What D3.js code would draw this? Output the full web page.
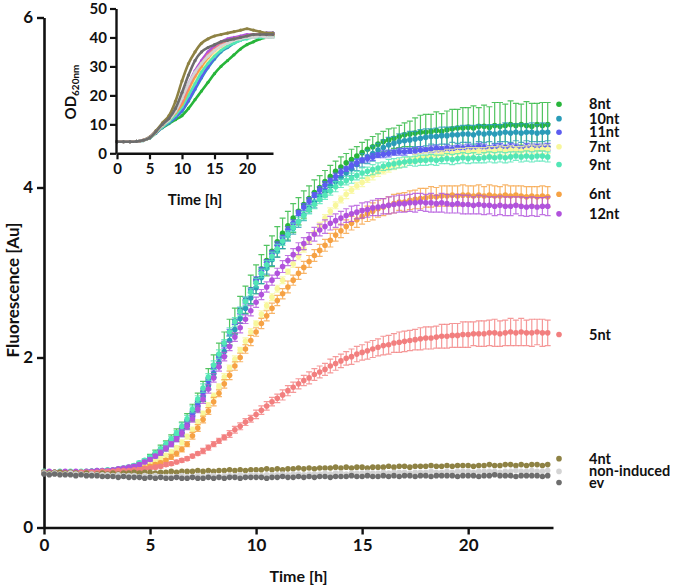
<!DOCTYPE html>
<html>
<head>
<meta charset="utf-8">
<script src="https://cdn.jsdelivr.net/npm/d3@7/dist/d3.min.js"></script>
<style>
  body { margin: 0; background: #fff; }
  text { font-family: Lato, "Open Sans", sans-serif; font-weight: bold; fill: #111; }
</style>
</head>
<body>
<div id="chart"></div>
<script>
// sampling times (h), one reading every 15 min
const timeH = [
  0,0.25,0.5,0.75, 1,1.25,1.5,1.75, 2,2.25,2.5,2.75, 3,3.25,3.5,3.75,
  4,4.25,4.5,4.75, 5,5.25,5.5,5.75, 6,6.25,6.5,6.75, 7,7.25,7.5,7.75,
  8,8.25,8.5,8.75, 9,9.25,9.5,9.75, 10,10.25,10.5,10.75, 11,11.25,11.5,11.75,
  12,12.25,12.5,12.75, 13,13.25,13.5,13.75, 14,14.25,14.5,14.75, 15,15.25,15.5,15.75,
  16,16.25,16.5,16.75, 17,17.25,17.5,17.75, 18,18.25,18.5,18.75, 19,19.25,19.5,19.75,
  20,20.25,20.5,20.75, 21,21.25,21.5,21.75, 22,22.25,22.5,22.75, 23,23.25,23.5,23.75
];

// fluorescence means [Au]
const f8nt = [
  0.65,0.65,0.64,0.65, 0.64,0.65,0.65,0.64, 0.65,0.66,0.65,0.66, 0.67,0.67,0.68,0.69,
  0.70,0.72,0.74,0.77, 0.83,0.87,0.92,0.97, 1.03,1.09,1.16,1.25, 1.35,1.47,1.60,1.75,
  1.90,2.03,2.16,2.30, 2.43,2.56,2.68,2.80, 2.92,3.04,3.14,3.25, 3.36,3.46,3.55,3.64,
  3.72,3.80,3.87,3.94, 4.00,4.07,4.13,4.19, 4.24,4.29,4.33,4.37, 4.41,4.45,4.48,4.51,
  4.54,4.56,4.58,4.60, 4.62,4.63,4.64,4.65, 4.65,4.66,4.67,4.66, 4.68,4.69,4.70,4.70,
  4.71,4.70,4.72,4.72, 4.71,4.73,4.72,4.73, 4.74,4.73,4.74,4.73, 4.72,4.74,4.73,4.74
];
const f10nt = [
  0.65,0.64,0.65,0.64, 0.65,0.64,0.65,0.65, 0.65,0.65,0.66,0.66, 0.66,0.67,0.67,0.68,
  0.69,0.71,0.73,0.76, 0.80,0.84,0.88,0.93, 0.98,1.04,1.11,1.20, 1.30,1.42,1.54,1.67,
  1.81,1.94,2.07,2.20, 2.33,2.46,2.58,2.70, 2.82,2.94,3.05,3.15, 3.25,3.35,3.44,3.52,
  3.60,3.68,3.76,3.83, 3.90,3.96,4.02,4.07, 4.12,4.17,4.22,4.27, 4.32,4.36,4.40,4.44,
  4.47,4.50,4.52,4.54, 4.55,4.56,4.57,4.58, 4.59,4.60,4.60,4.61, 4.61,4.62,4.62,4.63,
  4.63,4.62,4.64,4.63, 4.64,4.63,4.64,4.65, 4.64,4.65,4.64,4.65, 4.65,4.64,4.65,4.65
];
const f11nt = [
  0.64,0.65,0.64,0.65, 0.65,0.64,0.65,0.65, 0.65,0.66,0.66,0.66, 0.67,0.67,0.68,0.69,
  0.70,0.72,0.74,0.77, 0.81,0.85,0.90,0.95, 1.01,1.07,1.15,1.24, 1.34,1.46,1.59,1.73,
  1.88,2.01,2.15,2.29, 2.42,2.55,2.67,2.79, 2.91,3.02,3.12,3.22, 3.32,3.41,3.50,3.58,
  3.70,3.77,3.84,3.91, 3.97,4.03,4.08,4.13, 4.18,4.22,4.26,4.29, 4.32,4.34,4.36,4.38,
  4.39,4.40,4.41,4.42, 4.42,4.43,4.43,4.44, 4.44,4.45,4.46,4.45, 4.46,4.45,4.47,4.46,
  4.47,4.46,4.48,4.47, 4.46,4.47,4.48,4.47, 4.48,4.47,4.46,4.48, 4.47,4.48,4.47,4.48
];
const f7nt = [
  0.65,0.64,0.64,0.65, 0.64,0.65,0.64,0.65, 0.65,0.65,0.65,0.66, 0.66,0.66,0.67,0.67,
  0.68,0.69,0.71,0.73, 0.75,0.78,0.81,0.85, 0.89,0.94,1.00,1.07, 1.15,1.24,1.34,1.44,
  1.55,1.66,1.77,1.88, 1.98,2.09,2.19,2.30, 2.40,2.51,2.61,2.71, 2.81,2.91,3.01,3.10,
  3.19,3.28,3.37,3.46, 3.55,3.64,3.72,3.79, 3.86,3.92,3.97,4.02, 4.06,4.10,4.14,4.18,
  4.20,4.23,4.26,4.28, 4.30,4.32,4.34,4.35, 4.36,4.37,4.38,4.39, 4.40,4.40,4.41,4.41,
  4.42,4.42,4.43,4.42, 4.43,4.43,4.44,4.43, 4.44,4.44,4.43,4.44, 4.45,4.44,4.45,4.45
];
const f9nt = [
  0.66,0.65,0.65,0.66, 0.65,0.66,0.65,0.66, 0.66,0.66,0.67,0.67, 0.68,0.68,0.69,0.70,
  0.71,0.73,0.76,0.79, 0.83,0.87,0.92,0.98, 1.04,1.11,1.19,1.28, 1.39,1.51,1.64,1.77,
  1.91,2.04,2.17,2.30, 2.42,2.54,2.66,2.77, 2.88,2.99,3.09,3.19, 3.28,3.37,3.45,3.53,
  3.60,3.67,3.74,3.80, 3.86,3.91,3.96,4.01, 4.05,4.08,4.11,4.14, 4.17,4.19,4.21,4.23,
  4.25,4.27,4.28,4.29, 4.30,4.31,4.31,4.32, 4.32,4.33,4.32,4.33, 4.34,4.33,4.34,4.35,
  4.34,4.35,4.34,4.35, 4.36,4.35,4.36,4.35, 4.36,4.37,4.36,4.37, 4.36,4.37,4.37,4.36
];
const f6nt = [
  0.64,0.65,0.64,0.64, 0.65,0.64,0.64,0.65, 0.64,0.65,0.65,0.65, 0.65,0.66,0.66,0.66,
  0.67,0.68,0.69,0.70, 0.72,0.74,0.76,0.79, 0.83,0.87,0.92,0.98, 1.08,1.17,1.27,1.37,
  1.48,1.58,1.69,1.79, 1.90,2.00,2.10,2.20, 2.30,2.40,2.49,2.58, 2.67,2.75,2.83,2.91,
  2.99,3.06,3.13,3.20, 3.26,3.32,3.38,3.44, 3.49,3.54,3.58,3.62, 3.66,3.69,3.72,3.75,
  3.77,3.79,3.81,3.83, 3.83,3.85,3.86,3.87, 3.88,3.89,3.89,3.90, 3.90,3.91,3.90,3.91,
  3.91,3.90,3.91,3.90, 3.91,3.90,3.90,3.91, 3.90,3.91,3.90,3.89, 3.90,3.89,3.90,3.89
];
const f12nt = [
  0.65,0.66,0.65,0.65, 0.66,0.65,0.66,0.65, 0.66,0.66,0.67,0.67, 0.67,0.68,0.69,0.70,
  0.71,0.72,0.74,0.77, 0.80,0.84,0.88,0.93, 0.98,1.04,1.11,1.19, 1.28,1.39,1.51,1.63,
  1.76,1.89,2.01,2.13, 2.24,2.35,2.45,2.55, 2.65,2.74,2.83,2.91, 2.99,3.07,3.14,3.21,
  3.28,3.34,3.40,3.45, 3.50,3.54,3.58,3.61, 3.64,3.67,3.69,3.71, 3.73,3.74,3.76,3.77,
  3.78,3.79,3.80,3.81, 3.81,3.82,3.82,3.83, 3.82,3.82,3.81,3.82, 3.81,3.80,3.81,3.80,
  3.80,3.79,3.80,3.79, 3.79,3.78,3.79,3.78, 3.78,3.79,3.78,3.77, 3.78,3.77,3.78,3.78
];
const f5nt = [
  0.65,0.64,0.65,0.65, 0.64,0.65,0.64,0.65, 0.65,0.65,0.65,0.66, 0.66,0.66,0.67,0.67,
  0.67,0.68,0.68,0.69, 0.70,0.71,0.72,0.74, 0.75,0.77,0.79,0.81, 0.84,0.87,0.90,0.94,
  0.98,1.02,1.06,1.10, 1.15,1.19,1.24,1.28, 1.33,1.38,1.43,1.48, 1.52,1.56,1.61,1.65,
  1.69,1.73,1.76,1.80, 1.83,1.86,1.90,1.93, 1.96,1.99,2.01,2.04, 2.06,2.08,2.10,2.12,
  2.14,2.15,2.17,2.18, 2.19,2.20,2.21,2.22, 2.23,2.23,2.24,2.25, 2.25,2.26,2.26,2.27,
  2.27,2.28,2.28,2.28, 2.29,2.29,2.28,2.29, 2.30,2.29,2.30,2.29, 2.29,2.30,2.29,2.29
];
const f4nt = [
  0.65,0.64,0.65,0.65, 0.64,0.65,0.64,0.63, 0.64,0.63,0.63,0.64, 0.63,0.64,0.63,0.64,
  0.64,0.65,0.64,0.65, 0.65,0.64,0.65,0.65, 0.66,0.65,0.66,0.66, 0.66,0.67,0.66,0.67,
  0.66,0.67,0.67,0.68, 0.67,0.68,0.67,0.68, 0.68,0.68,0.69,0.68, 0.69,0.68,0.69,0.69,
  0.70,0.69,0.70,0.69, 0.70,0.70,0.70,0.71, 0.70,0.71,0.70,0.71, 0.71,0.70,0.71,0.71,
  0.71,0.72,0.71,0.72, 0.72,0.71,0.72,0.72, 0.72,0.73,0.72,0.72, 0.73,0.72,0.73,0.73,
  0.73,0.72,0.73,0.73, 0.74,0.73,0.73,0.74, 0.74,0.73,0.74,0.73, 0.74,0.74,0.73,0.74
];
const fNonInduced = [
  0.64,0.63,0.64,0.63, 0.63,0.64,0.63,0.63, 0.62,0.63,0.62,0.62, 0.62,0.61,0.62,0.61,
  0.61,0.61,0.60,0.61, 0.60,0.61,0.60,0.60, 0.60,0.60,0.61,0.60, 0.60,0.61,0.60,0.61,
  0.61,0.60,0.61,0.61, 0.61,0.62,0.61,0.62, 0.62,0.61,0.62,0.62, 0.62,0.63,0.62,0.63,
  0.63,0.62,0.63,0.63, 0.63,0.64,0.63,0.64, 0.64,0.63,0.64,0.64, 0.64,0.65,0.64,0.64,
  0.65,0.64,0.65,0.65, 0.65,0.64,0.65,0.65, 0.65,0.66,0.65,0.65, 0.66,0.65,0.66,0.66,
  0.66,0.65,0.66,0.66, 0.66,0.66,0.65,0.66, 0.66,0.67,0.66,0.66, 0.67,0.66,0.66,0.67
];
const fEv = [
  0.63,0.62,0.63,0.62, 0.62,0.62,0.61,0.62, 0.61,0.61,0.61,0.60, 0.60,0.60,0.59,0.60,
  0.59,0.59,0.59,0.58, 0.59,0.58,0.59,0.58, 0.58,0.59,0.58,0.58, 0.59,0.58,0.58,0.59,
  0.58,0.59,0.58,0.59, 0.59,0.58,0.59,0.59, 0.59,0.59,0.58,0.59, 0.59,0.60,0.59,0.59,
  0.60,0.59,0.60,0.59, 0.60,0.60,0.59,0.60, 0.60,0.60,0.61,0.60, 0.60,0.61,0.60,0.60,
  0.61,0.60,0.61,0.60, 0.61,0.61,0.60,0.61, 0.61,0.60,0.61,0.61, 0.61,0.61,0.60,0.61,
  0.61,0.61,0.60,0.61, 0.61,0.62,0.61,0.61, 0.61,0.60,0.61,0.61, 0.61,0.61,0.60,0.61
];

// standard deviations [Au]
const e8nt = [
  0.01,0.01,0.01,0.01, 0.01,0.01,0.01,0.01, 0.01,0.01,0.01,0.01, 0.01,0.02,0.02,0.02,
  0.02,0.02,0.03,0.03, 0.03,0.04,0.05,0.05, 0.06,0.07,0.08,0.09, 0.10,0.11,0.12,0.12,
  0.13,0.14,0.14,0.15, 0.15,0.16,0.16,0.17, 0.17,0.17,0.18,0.18, 0.18,0.18,0.17,0.17,
  0.16,0.16,0.15,0.15, 0.14,0.13,0.13,0.12, 0.12,0.11,0.12,0.11, 0.12,0.11,0.12,0.12,
  0.12,0.13,0.12,0.13, 0.14,0.15,0.18,0.20, 0.21,0.20,0.22,0.21, 0.22,0.23,0.22,0.24,
  0.23,0.26,0.22,0.25, 0.24,0.27,0.28,0.25, 0.28,0.26,0.24,0.28, 0.27,0.25,0.27,0.26
];
const e10nt = [
  0.01,0.01,0.01,0.01, 0.01,0.01,0.01,0.01, 0.01,0.01,0.01,0.01, 0.01,0.01,0.01,0.01,
  0.01,0.02,0.02,0.02, 0.02,0.02,0.03,0.03, 0.03,0.03,0.04,0.04, 0.04,0.05,0.05,0.05,
  0.05,0.06,0.06,0.06, 0.06,0.06,0.07,0.07, 0.07,0.07,0.07,0.07, 0.07,0.07,0.07,0.07,
  0.07,0.07,0.06,0.07, 0.06,0.07,0.06,0.07, 0.07,0.07,0.08,0.07, 0.08,0.08,0.09,0.08,
  0.09,0.09,0.08,0.09, 0.09,0.10,0.09,0.10, 0.10,0.09,0.10,0.10, 0.10,0.09,0.10,0.10,
  0.10,0.11,0.10,0.10, 0.10,0.11,0.10,0.11, 0.11,0.10,0.11,0.10, 0.11,0.10,0.11,0.10
];
const e11nt = [
  0.01,0.01,0.01,0.01, 0.01,0.01,0.01,0.01, 0.01,0.01,0.01,0.01, 0.01,0.01,0.01,0.01,
  0.01,0.01,0.02,0.02, 0.02,0.02,0.02,0.02, 0.02,0.03,0.03,0.03, 0.03,0.03,0.04,0.03,
  0.04,0.03,0.04,0.04, 0.03,0.04,0.04,0.03, 0.04,0.04,0.03,0.04, 0.04,0.03,0.04,0.04,
  0.03,0.04,0.04,0.03, 0.04,0.04,0.03,0.04, 0.04,0.03,0.04,0.04, 0.03,0.04,0.04,0.03,
  0.04,0.04,0.03,0.04, 0.04,0.03,0.04,0.04, 0.03,0.04,0.04,0.03, 0.04,0.04,0.03,0.04,
  0.04,0.03,0.04,0.04, 0.03,0.04,0.04,0.03, 0.04,0.04,0.03,0.04, 0.04,0.03,0.04,0.04
];
const e7nt = [
  0.01,0.01,0.01,0.01, 0.01,0.01,0.01,0.01, 0.01,0.01,0.01,0.01, 0.01,0.01,0.01,0.01,
  0.01,0.01,0.01,0.02, 0.02,0.02,0.02,0.02, 0.02,0.02,0.03,0.03, 0.03,0.03,0.03,0.03,
  0.03,0.03,0.04,0.03, 0.04,0.03,0.04,0.04, 0.03,0.04,0.04,0.04, 0.04,0.04,0.03,0.04,
  0.04,0.04,0.04,0.03, 0.04,0.04,0.04,0.04, 0.04,0.05,0.04,0.04, 0.05,0.04,0.05,0.05,
  0.04,0.05,0.05,0.05, 0.05,0.04,0.05,0.05, 0.05,0.05,0.05,0.04, 0.05,0.05,0.05,0.05,
  0.05,0.05,0.04,0.05, 0.05,0.05,0.05,0.05, 0.05,0.04,0.05,0.05, 0.05,0.05,0.05,0.05
];
const e9nt = [
  0.01,0.01,0.01,0.01, 0.01,0.01,0.01,0.01, 0.01,0.01,0.01,0.01, 0.01,0.01,0.01,0.02,
  0.02,0.02,0.02,0.02, 0.02,0.03,0.03,0.03, 0.03,0.03,0.04,0.04, 0.04,0.04,0.05,0.04,
  0.05,0.05,0.04,0.05, 0.05,0.05,0.05,0.04, 0.05,0.05,0.05,0.05, 0.05,0.05,0.04,0.05,
  0.05,0.05,0.05,0.05, 0.05,0.05,0.05,0.06, 0.05,0.05,0.06,0.05, 0.06,0.05,0.06,0.06,
  0.05,0.06,0.06,0.06, 0.06,0.05,0.06,0.06, 0.06,0.06,0.06,0.05, 0.06,0.06,0.06,0.06,
  0.06,0.06,0.05,0.06, 0.06,0.06,0.06,0.06, 0.06,0.05,0.06,0.06, 0.06,0.06,0.06,0.06
];
const e6nt = [
  0.01,0.01,0.01,0.01, 0.01,0.01,0.01,0.01, 0.01,0.01,0.01,0.01, 0.01,0.01,0.01,0.01,
  0.01,0.01,0.02,0.02, 0.02,0.02,0.02,0.02, 0.03,0.03,0.03,0.03, 0.04,0.04,0.04,0.04,
  0.05,0.04,0.05,0.05, 0.05,0.05,0.05,0.06, 0.05,0.06,0.06,0.06, 0.06,0.06,0.07,0.06,
  0.07,0.07,0.07,0.07, 0.07,0.07,0.08,0.07, 0.08,0.08,0.08,0.09, 0.09,0.09,0.10,0.10,
  0.10,0.10,0.11,0.10, 0.11,0.11,0.11,0.12, 0.11,0.12,0.11,0.12, 0.12,0.11,0.12,0.12,
  0.11,0.12,0.12,0.11, 0.12,0.12,0.11,0.12, 0.12,0.11,0.12,0.12, 0.11,0.12,0.12,0.12
];
const e12nt = [
  0.01,0.01,0.01,0.01, 0.01,0.01,0.01,0.01, 0.01,0.01,0.01,0.01, 0.01,0.01,0.01,0.01,
  0.01,0.02,0.02,0.02, 0.02,0.02,0.03,0.03, 0.03,0.03,0.04,0.04, 0.04,0.04,0.05,0.05,
  0.05,0.05,0.05,0.05, 0.05,0.06,0.05,0.06, 0.06,0.06,0.06,0.06, 0.06,0.07,0.06,0.07,
  0.07,0.07,0.07,0.08, 0.07,0.08,0.08,0.08, 0.08,0.08,0.09,0.08, 0.09,0.09,0.09,0.10,
  0.09,0.10,0.10,0.10, 0.10,0.10,0.11,0.10, 0.10,0.11,0.10,0.11, 0.11,0.10,0.11,0.11,
  0.11,0.10,0.11,0.11, 0.10,0.11,0.11,0.11, 0.11,0.10,0.11,0.11, 0.11,0.11,0.10,0.11
];
const e5nt = [
  0.01,0.01,0.01,0.01, 0.01,0.01,0.01,0.01, 0.01,0.01,0.01,0.01, 0.01,0.01,0.01,0.01,
  0.01,0.01,0.01,0.01, 0.01,0.02,0.02,0.02, 0.02,0.02,0.02,0.02, 0.02,0.02,0.03,0.03,
  0.03,0.03,0.03,0.04, 0.04,0.04,0.04,0.04, 0.05,0.05,0.05,0.05, 0.05,0.06,0.06,0.06,
  0.06,0.06,0.07,0.07, 0.07,0.07,0.08,0.08, 0.08,0.08,0.09,0.09, 0.09,0.10,0.10,0.10,
  0.11,0.11,0.11,0.12, 0.12,0.12,0.12,0.13, 0.13,0.13,0.13,0.14, 0.14,0.14,0.14,0.15,
  0.15,0.14,0.15,0.15, 0.15,0.16,0.15,0.15, 0.16,0.15,0.16,0.15, 0.16,0.15,0.16,0.15
];

// inset: OD620nm, hourly readings 0..24 h
const insetTime = [0,1,2,3,4,5,6,7,8,9,10,11,12,13,14,15,16,17,18,19,20,21,22,23,24];
const od8nt  = [4.0,4.0,4.0,4.1,4.4,5.2,7.0,8.8,10.2,11.6,13.0,15.5,18.5,21.5,24.5,27.5,30.0,32.0,34.0,36.0,37.5,38.5,39.5,40.0,40.5];
const od10nt = [4.0,4.0,4.0,4.1,4.4,5.2,7.0,9.0,10.5,12.3,14.5,18.0,22.0,26.0,29.5,32.5,35.0,36.5,38.0,39.0,40.0,40.5,41.0,41.0,41.5];
const od11nt = [4.0,4.0,4.0,4.1,4.4,5.3,7.1,9.1,10.8,12.6,15.0,18.5,22.5,26.5,30.0,33.0,35.5,37.0,38.5,39.5,40.0,40.5,41.0,41.5,41.5];
const od7nt  = [4.0,4.0,4.0,4.1,4.4,5.3,7.2,9.3,11.2,13.5,16.5,20.5,24.5,28.5,31.5,34.0,36.0,37.5,38.5,39.5,40.0,40.5,40.5,41.0,41.0];
const od9nt  = [4.0,4.0,4.0,4.1,4.4,5.3,7.2,9.2,11.0,13.2,16.0,20.0,24.0,28.0,31.0,33.5,35.5,37.0,38.0,39.0,39.5,40.0,40.0,40.0,40.0];
const od6nt  = [4.0,4.0,4.0,4.1,4.5,5.4,7.4,9.6,11.6,14.0,17.0,22.0,26.5,30.0,33.0,35.5,37.0,38.5,39.5,40.0,40.5,41.0,41.0,41.0,41.0];
const od12nt = [4.0,4.0,4.0,4.1,4.5,5.5,7.6,9.9,12.0,15.0,19.0,24.0,28.5,32.0,35.0,37.0,38.5,39.5,40.0,40.5,41.0,41.0,41.0,41.5,41.5];
const od5nt  = [4.0,4.0,4.0,4.1,4.5,5.5,7.5,9.8,11.8,14.5,18.0,23.0,27.5,31.0,34.0,36.0,37.5,38.5,39.5,40.0,40.5,41.0,41.0,41.0,41.0];
const od4nt  = [4.0,4.0,4.0,4.1,4.5,5.6,7.8,10.5,13.0,18.0,25.0,31.0,35.0,38.0,39.5,40.5,41.0,41.5,42.0,42.5,43.0,42.5,42.0,41.5,41.5];
const odNonInduced = [4.0,4.0,4.0,4.1,4.5,5.4,7.4,9.7,11.5,14.5,19.0,24.0,28.0,31.0,33.5,35.5,37.0,38.0,39.0,39.5,40.0,40.0,40.5,40.0,40.0];
const odEv   = [4.0,4.0,4.0,4.1,4.5,5.3,7.5,10.0,12.0,15.5,21.0,27.0,32.0,35.0,36.5,37.5,38.5,39.0,39.5,40.0,40.5,41.0,41.0,41.0,41.0];

// series labels and colours
const names  = ["8nt","10nt","11nt","7nt","9nt","6nt","12nt","5nt","4nt","non-induced","ev"];
const colors = ["#27b53a","#2a9cb8","#5c5cf0","#f8f79c","#52e6b6","#f6a244","#b152dc","#f27f7f","#8e8244","#d4d4d4","#6d6d6d"];
// where each end label sits, read in Au
const labelAt = [4.98,4.81,4.65,4.48,4.27,3.92,3.69,2.27,0.81,0.66,0.53];

const fluor  = [f8nt,f10nt,f11nt,f7nt,f9nt,f6nt,f12nt,f5nt,f4nt,fNonInduced,fEv];
const errs   = [e8nt,e10nt,e11nt,e7nt,e9nt,e6nt,e12nt,e5nt,null,null,null];
const od     = [od8nt,od10nt,od11nt,od7nt,od9nt,od6nt,od12nt,od5nt,od4nt,odNonInduced,odEv];

const W = 685, H = 586;
const svg = d3.select("#chart").append("svg")
    .attr("width", W)
    .attr("height", H)
    .style("background", "#fff");

// main scales
const x = d3.scaleLinear().domain([0, 24]).range([44, 553]);
const y = d3.scaleLinear().domain([0, 6]).range([527.5, 17.5]);

// main axes
const xAxis = svg.append("g")
    .attr("transform", `translate(0,${y(0)})`)
    .call(d3.axisBottom(x).tickValues([0, 5, 10, 15, 20]).tickSize(7).tickSizeOuter(0).tickPadding(4));
const yAxis = svg.append("g")
    .attr("transform", `translate(${x(0)},0)`)
    .call(d3.axisLeft(y).tickValues([0, 2, 4, 6]).tickFormat(d3.format("d"))
        .tickSize(7).tickSizeOuter(0).tickPadding(4));

[xAxis, yAxis].forEach(ax => {
    ax.select(".domain").attr("stroke", "#111").attr("stroke-width", 2.6);
    ax.selectAll(".tick line").attr("stroke", "#111").attr("stroke-width", 2.4);
    ax.selectAll(".tick text").style("font-size", "17px").attr("fill", "#111");
});

svg.append("text")
    .attr("x", (x(0) + x(24)) / 2)
    .attr("y", 582)
    .attr("text-anchor", "middle")
    .style("font-size", "16px")
    .text("Time [h]");

svg.append("text")
    .attr("transform", "translate(19,290) rotate(-90)")
    .attr("text-anchor", "middle")
    .style("font-size", "17px")
    .text("Fluorescence [Au]");

// data: error bars then symbols, one dataset after another
const plot = svg.append("g");
names.forEach((name, k) => {
    const pts = fluor[k].map((v, i) => ({ t: timeH[i], v: v, e: errs[k] ? errs[k][i] : 0 }));
    const g = plot.append("g");
    if (errs[k]) {
        g.selectAll("path")
            .data(pts)
            .join("path")
            .attr("d", d => {
                const cx = x(d.t), hi = y(d.v + d.e), lo = y(d.v - d.e);
                return `M${cx},${hi}V${lo}M${cx - 3},${hi}H${cx + 3}M${cx - 3},${lo}H${cx + 3}`;
            })
            .attr("fill", "none")
            .attr("stroke", colors[k])
            .attr("stroke-opacity", 0.8)
            .attr("stroke-width", 1.2);
    }
    g.selectAll("circle")
        .data(pts)
        .join("circle")
        .attr("cx", d => x(d.t))
        .attr("cy", d => y(d.v))
        .attr("r", 2.8)
        .attr("fill", colors[k]);
});

// end labels
const legend = svg.append("g");
names.forEach((name, k) => {
    legend.append("circle")
        .attr("cx", 559)
        .attr("cy", y(labelAt[k]))
        .attr("r", 2.8)
        .attr("fill", colors[k]);
    legend.append("text")
        .attr("x", 589)
        .attr("y", y(labelAt[k]))
        .attr("dy", "0.35em")
        .style("font-size", "14.5px")
        .text(name);
});

// inset growth curves
const xi = d3.scaleLinear().domain([0, 24]).range([117, 273]);
const yi = d3.scaleLinear().domain([0, 50]).range([153.3, 8.5]);
const inset = svg.append("g");

const line = d3.line()
    .x((d, i) => xi(insetTime[i]))
    .y(d => yi(d))
    .curve(d3.curveMonotoneX);

od.forEach((vals, k) => {
    inset.append("path")
        .datum(vals)
        .attr("d", line)
        .attr("fill", "none")
        .attr("stroke", colors[k])
        .attr("stroke-width", 2.6);
    inset.append("g")
        .selectAll("circle")
        .data(vals)
        .join("circle")
        .attr("cx", (d, i) => xi(insetTime[i]))
        .attr("cy", d => yi(d))
        .attr("r", 1.6)
        .attr("fill", colors[k]);
});

const xiAxis = inset.append("g")
    .attr("transform", `translate(0,${yi(0)})`)
    .call(d3.axisBottom(xi).tickValues([0, 5, 10, 15, 20]).tickSize(6).tickSizeOuter(0).tickPadding(4));
const yiAxis = inset.append("g")
    .attr("transform", `translate(${xi(0) - 1},0)`)
    .call(d3.axisLeft(yi).tickValues([0, 10, 20, 30, 40, 50]).tickSize(6).tickSizeOuter(0).tickPadding(3));

[xiAxis, yiAxis].forEach(ax => {
    ax.select(".domain").attr("stroke", "#111").attr("stroke-width", 2.4);
    ax.selectAll(".tick line").attr("stroke", "#111").attr("stroke-width", 2.2);
    ax.selectAll(".tick text").style("font-size", "15px").attr("fill", "#111");
});

inset.append("text")
    .attr("x", (xi(0) + xi(24)) / 2)
    .attr("y", 205)
    .attr("text-anchor", "middle")
    .style("font-size", "15px")
    .text("Time [h]");

const odLabel = inset.append("text")
    .attr("transform", "translate(76,92) rotate(-90)")
    .attr("text-anchor", "middle")
    .style("font-size", "15px");
odLabel.append("tspan").text("OD");
odLabel.append("tspan")
    .attr("dy", "0.3em")
    .style("font-size", "10px")
    .text("620nm");
</script>
</body>
</html>
